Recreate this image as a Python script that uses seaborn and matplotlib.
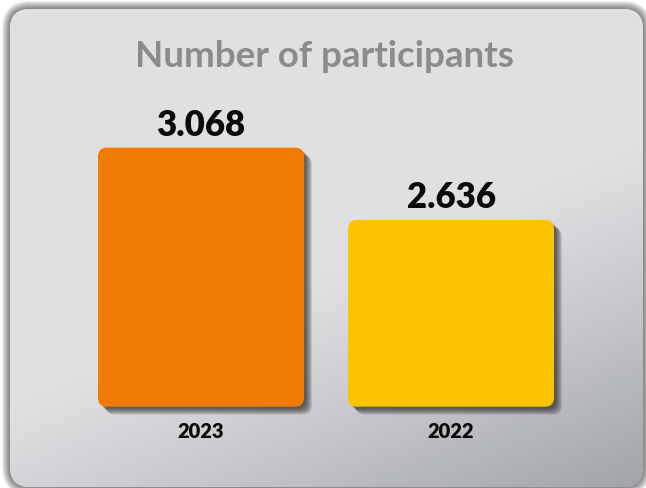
import numpy as np
import pandas as pd
import matplotlib
matplotlib.use("Agg")
import matplotlib.pyplot as plt
import seaborn as sns
from matplotlib.patches import FancyBboxPatch

# ---- data -------------------------------------------------------------
years = ["2023", "2022"]
participants = [3068, 2636]
value_labels = ["3.068", "2.636"]
bar_colors = ["#EF7B00", "#FCC300"]
title_text = "Number of participants"

df = pd.DataFrame({"year": years, "participants": participants})

# ---- figure & theme ---------------------------------------------------
sns.set_theme(style="white")
plt.rcParams["font.family"] = ["Lato", "DejaVu Sans"]

W, H = 646, 488
fig = plt.figure(figsize=(W / 100, H / 100), dpi=100)
fig.patch.set_facecolor("white")

# background canvas in pixel coordinates (y grows downward)
bg = fig.add_axes([0, 0, 1, 1])
bg.set_xlim(0, W)
bg.set_ylim(H, 0)
bg.axis("off")

px0, py0, px1, py1 = 10, 9, 643, 487
radius = 20

# soft drop shadow around the panel
for k in range(1, 9):
    sh = FancyBboxPatch((px0 + radius, py0 + radius),
                        (px1 - px0) - 2 * radius, (py1 - py0) - 2 * radius,
                        boxstyle=f"round,pad={radius + k},rounding_size={radius + k}",
                        facecolor="black", edgecolor="none", alpha=0.07, zorder=0)
    bg.add_patch(sh)

panel = FancyBboxPatch((px0 + radius, py0 + radius),
                       (px1 - px0) - 2 * radius, (py1 - py0) - 2 * radius,
                       boxstyle=f"round,pad={radius},rounding_size={radius}",
                       facecolor="#dfe0e2", edgecolor="none", zorder=1)
bg.add_patch(panel)

# diagonal light-to-dark shading of the panel
yy, xx = np.mgrid[0:H, 0:W]
xn, yn = xx / W, yy / H
t = np.clip((0.55 * xn + 1.0 * yn - 0.85) / 0.7, 0, 1) ** 1.1
top = np.array([223, 224, 226]) / 255
bot = np.array([160, 163, 167]) / 255
img = top[None, None, :] * (1 - t[..., None]) + bot[None, None, :] * t[..., None]
im = bg.imshow(img, extent=(0, W, H, 0), zorder=2, interpolation="bilinear")
im.set_clip_path(panel)

# ---- bar chart --------------------------------------------------------
ax_left, ax_right = 76, 576
ax_bottom, ax_top = 406.7, 100
ax = fig.add_axes([ax_left / W, 1 - ax_bottom / H,
                   (ax_right - ax_left) / W, (ax_bottom - ax_top) / H])
ax.set_facecolor("none")

axis_floor = 1520
units_per_px = 5.975
ax.set_ylim(axis_floor, axis_floor + (ax_bottom - ax_top) * units_per_px)
ax.set_xlim(-0.5, 1.5)

sns.barplot(data=df, x="year", y="participants", hue="year",
            palette=bar_colors, width=0.824, legend=False, ax=ax,
            saturation=1)
ax.set_xlim(-0.5, 1.5)

x_px = (ax_right - ax_left) / 2.0           # pixels per x unit
aspect = units_per_px * x_px                 # y-units per x-unit at equal pixels
round_r = 9 / x_px

bars = list(ax.patches)
for bar in bars:
    x, w, h = bar.get_x(), bar.get_width(), bar.get_height()
    color = bar.get_facecolor()
    bar.remove()
    # blurred shadow to the lower right
    for off in range(2, 9):
        dx = off / x_px
        dy = off * units_per_px
        shadow = FancyBboxPatch((x + dx, axis_floor - dy), w, h - axis_floor,
                                boxstyle=f"round,pad=0,rounding_size={round_r}",
                                mutation_aspect=aspect,
                                facecolor="#1a1a1a", edgecolor="none",
                                alpha=0.13, zorder=2, clip_on=False)
        ax.add_patch(shadow)
    rb = FancyBboxPatch((x, axis_floor), w, h - axis_floor,
                        boxstyle=f"round,pad=0,rounding_size={round_r}",
                        mutation_aspect=aspect,
                        facecolor=color, edgecolor="none", zorder=3,
                        clip_on=False)
    ax.add_patch(rb)

for i, (val, lab) in enumerate(zip(participants, value_labels)):
    ax.annotate(lab, xy=(i, val), xytext=(0, 8.5), textcoords="offset points",
                ha="center", va="baseline", fontsize=25, fontweight="heavy",
                color="#0a0a0a", zorder=5)

sns.despine(ax=ax, left=True, bottom=True)
ax.set_xlabel("")
ax.set_ylabel("")
ax.set_yticks([])
ax.tick_params(axis="x", length=0, pad=11)
for tl in ax.get_xticklabels():
    tl.set_fontsize(14.5)
    tl.set_fontweight("heavy")
    tl.set_color("#0a0a0a")

fig.text(324 / W, 1 - 67.3 / H, title_text, ha="center", va="baseline",
         fontsize=26.5, fontweight="bold", color="#8a8b8d")

fig.savefig("out.png", dpi=100)
